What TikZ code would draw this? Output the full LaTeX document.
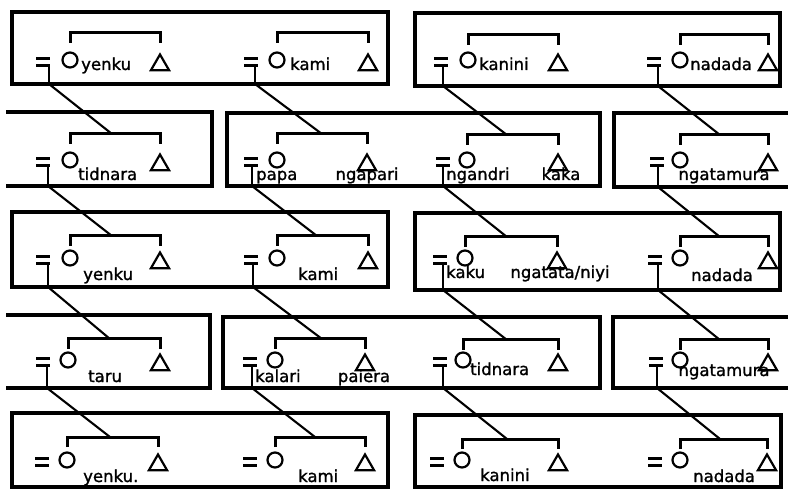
\documentclass[tikz,border=0pt]{standalone}
\usepackage{fontspec}
\newfontfamily\labfont{DejaVu Sans}[FakeBold=1.3]
\usetikzlibrary{shapes.geometric}
\tikzset{
  boxline/.style={line width=3.4pt},
  fem/.style={circle,draw,line width=2.2pt,minimum size=15pt,inner sep=0pt},
  male/.style={regular polygon,regular polygon sides=3,draw,line width=2.2pt,minimum size=21pt,inner sep=0pt},
  eqsign/.style={rectangle,minimum width=13pt,minimum height=6.5pt,inner sep=0pt},
  eqline/.style={line width=2.4pt},
  bracket/.style={line width=3pt},
  conn/.style={line width=2.1pt},
  lab/.style={font=\labfont\fontsize{16.5}{17}\selectfont,inner sep=0pt,anchor=base},
  labw/.style={lab,anchor=base west}
}
% #1 id, #2 eq x, #3 circle x, #4 triangle x, #5 y, #6 bracket top, #7 meeting x
\newcommand\famunit[7]{%
  \node[eqsign] (#1-e) at (#2,#5+2) {};
  \draw[eqline] (#1-e.north west) -- (#1-e.north east) (#1-e.south west) -- (#1-e.south east);
  \node[fem] (#1-c) at (#3,#5) {};
  \node[male] (#1-t) at (#4,#5+5) {};
  \coordinate (#1-m) at (#7,#6);
  \draw[bracket] (#3,#6+10) |- (#1-m) -| (#4,#6+10);
}
% #1 id, #2 x, #3 bottom
\newcommand\descent[3]{%
  \coordinate (#1-d) at (#2,#3);
  \draw[conn] (#1-e.south -| #1-d) -- (#1-d);
}
\begin{document}
\begin{tikzpicture}[x=1pt,y=-1pt]
\useasboundingbox (0,0) rectangle (788,489);
% boxes
\draw[boxline] (12,12) rectangle (388,84);
\draw[boxline] (415,13) rectangle (780,86);
\draw[boxline] (6,112) -- (212,112) -- (212,186) -- (6,186);
\draw[boxline] (227,113) rectangle (600,186);
\draw[boxline] (788,113) -- (614,113) -- (614,187) -- (788,187);
\draw[boxline] (12,212) rectangle (388,287);
\draw[boxline] (415,213) rectangle (780,290);
\draw[boxline] (6,315) -- (210,315) -- (210,388) -- (6,388);
\draw[boxline] (223,317) rectangle (600,388);
\draw[boxline] (788,317) -- (613,317) -- (613,388) -- (788,388);
\draw[boxline] (12,413) rectangle (388,487);
\draw[boxline] (415,415) rectangle (781,487);
% row 1
\famunit{a1}{43}{70}{160}{60}{33}{115}
\famunit{b1}{251}{277}{368}{60}{33}{322}
\famunit{c1}{441}{468}{558}{60}{35}{513}
\famunit{d1}{654}{680}{768}{60}{35}{724}
\node[labw] (a1-n) at (81,70) {yenku};
\node[labw] (b1-n) at (290,70) {kami};
\node[labw] (c1-n) at (479,70) {kanini};
\node[labw] (d1-n) at (690,70) {nadada};
\descent{a1}{49}{84}
\descent{b1}{255}{84}
\descent{c1}{443}{86}
\descent{d1}{658}{86}
% row 2
\famunit{a2}{43}{70}{160}{160}{134}{112}
\famunit{b2}{251}{277}{367}{160}{134}{322}
\famunit{c2}{443}{467}{558}{160}{135}{507}
\famunit{d2}{657}{680}{768}{160}{135}{720}
\node[labw] (a2-n) at (78,180) {tidnara};
\node[labw] (b2-n) at (256,180) {papa};
\node[lab] (b2-n2) at (367,180) {ngapari};
\node[labw] (c2-n) at (446,180) {ngandri};
\node[lab] (c2-n2) at (561,180) {kaka};
\node[lab] (d2-n) at (724,180) {ngatamura};
\descent{a2}{48}{186}
\descent{b2}{252}{186}
\descent{c2}{443}{186}
\descent{d2}{658}{187}
\draw[conn] (a1-d) -- (a2-m);
\draw[conn] (b1-d) -- (b2-m);
\draw[conn] (c1-d) -- (c2-m);
\draw[conn] (d1-d) -- (d2-m);
% row 3
\famunit{a3}{43}{70}{160}{258}{236}{112}
\famunit{b3}{251}{277}{368}{258}{236}{317}
\famunit{c3}{440}{465}{557}{258}{237}{507}
\famunit{d3}{655}{680}{768}{258}{237}{720}
\node[labw] (a3-n) at (83,280) {yenku};
\node[labw] (b3-n) at (298,280) {kami};
\node[labw] (c3-n) at (446,278) {kaku};
\node[lab] (c3-n2) at (560,278) {ngatata/niyi};
\node[lab] (d3-n) at (722,281) {nadada};
\descent{a3}{48}{287}
\descent{b3}{253}{287}
\descent{c3}{443}{290}
\descent{d3}{658}{290}
\draw[conn] (a2-d) -- (a3-m);
\draw[conn] (b2-d) -- (b3-m);
\draw[conn] (c2-d) -- (c3-m);
\draw[conn] (d2-d) -- (d3-m);
% row 4
\famunit{a4}{43}{68}{160}{360}{339}{110}
\famunit{b4}{250}{275}{365}{360}{339}{322}
\famunit{c4}{440}{463}{558}{360}{340}{507}
\famunit{d4}{656}{680}{768}{360}{340}{720}
\node[labw] (a4-n) at (88,382) {taru};
\node[labw] (b4-n) at (255,382) {kalari};
\node[lab] (b4-n2) at (364,382) {paiera};
\node[labw] (c4-n) at (470,375) {tidnara};
\node[lab] (d4-n) at (724,376) {ngatamura};
\descent{a4}{47}{388}
\descent{b4}{252}{388}
\descent{c4}{443}{388}
\descent{d4}{657}{388}
\draw[conn] (a3-d) -- (a4-m);
\draw[conn] (b3-d) -- (b4-m);
\draw[conn] (c3-d) -- (c4-m);
\draw[conn] (d3-d) -- (d4-m);
% row 5
\famunit{a5}{42}{67}{158}{460}{437}{110}
\famunit{b5}{250}{275}{365}{460}{437}{315}
\famunit{c5}{437}{462}{558}{460}{439}{507}
\famunit{d5}{655}{680}{767}{460}{439}{720}
\node[labw] (a5-n) at (83,482) {yenku.};
\node[labw] (b5-n) at (298,482) {kami};
\node[labw] (c5-n) at (480,481) {kanini};
\node[labw] (d5-n) at (693,482) {nadada};
\draw[conn] (a4-d) -- (a5-m);
\draw[conn] (b4-d) -- (b5-m);
\draw[conn] (c4-d) -- (c5-m);
\draw[conn] (d4-d) -- (d5-m);
\end{tikzpicture}
\end{document}
